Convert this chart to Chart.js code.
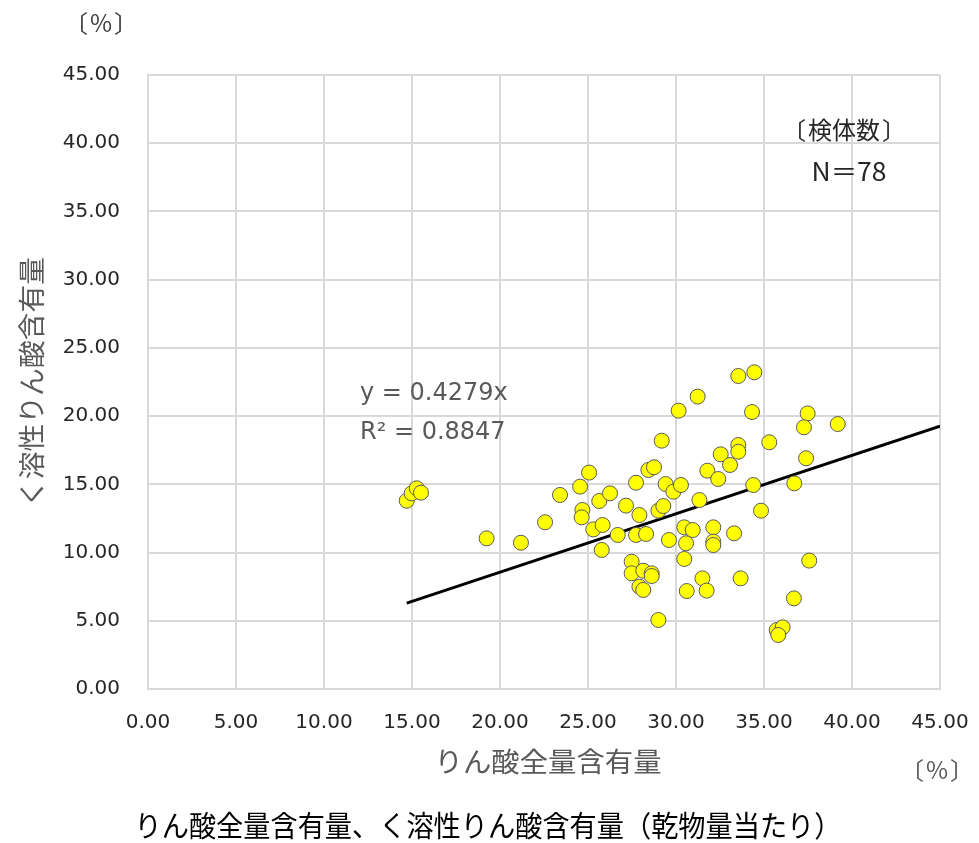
<!DOCTYPE html>
<html>
<head>
<meta charset="utf-8">
<script src="https://cdn.jsdelivr.net/npm/chart.js@4"></script>
<style>
  html, body { margin: 0; padding: 0; background: #fff; }
</style>
</head>
<body>
<canvas id="c" width="979" height="843"></canvas>
<script>
// りん酸全量含有量 (x) / く溶性りん酸含有量 (y)
const totalP = [
  14.70, 14.98, 15.27, 15.51, 19.24, 21.19, 22.56, 23.41, 24.55, 25.06,
  24.68, 24.64, 25.30, 25.83, 25.64, 26.25, 25.78, 27.16, 27.73, 27.92,
  26.69, 27.73, 28.30, 28.43, 28.75, 29.19, 29.41, 29.85, 29.00, 29.28,
  29.60, 30.15, 27.48, 27.48, 28.14, 28.62, 28.62, 27.92, 28.14, 29.00,
  33.54, 34.45, 31.23, 34.32, 37.48, 37.27, 39.19, 35.30, 33.54, 33.54,
  32.54, 33.07, 31.78, 32.40, 37.39, 30.28, 34.39, 36.72, 31.33, 34.83,
  30.47, 30.95, 32.12, 33.30, 30.57, 32.12, 32.12, 30.47, 37.57, 31.50,
  33.67, 30.61, 31.74, 36.70, 35.72, 36.06, 35.81
];
const solubleP = [
  13.80, 14.34, 14.71, 14.39, 11.04, 10.72, 12.22, 14.22, 14.83, 15.86,
  13.12, 12.58, 11.70, 12.02, 13.78, 14.34, 10.19, 13.44, 15.12, 12.75,
  11.29, 11.29, 11.36, 16.05, 16.25, 18.20, 15.02, 14.46, 13.07, 13.41,
  10.92, 20.40,  9.33,  8.48,  8.67,  8.48,  8.28,  7.50,  7.26,  5.06,
  22.94, 23.21, 21.43, 20.30, 20.20, 19.18, 19.42, 18.08, 17.88, 17.39,
  17.20, 16.42, 16.00, 15.39, 16.91, 14.95, 14.95, 15.07, 13.85, 13.07,
  11.85, 11.65, 11.85, 11.41, 10.68, 10.80, 10.55,  9.53,  9.41,  8.11,
   8.11,  7.18,  7.21,  6.64,  4.32,  4.52,  3.96
];

// trendline y = 0.4279x, drawn from the smallest x to the axis end
const SLOPE = 0.4279;
const trendX = [14.70, 45];
const equationLines = ["y = 0.4279x", "R² = 0.8847"];

const xTitle = "りん酸全量含有量";
const yTitle = "く溶性りん酸含有量";
const unitText = "%";
const countText = "検体数";
const countValue = "N＝78";
const caption = "りん酸全量含有量、く溶性りん酸含有量（乾物量当たり）";

const JP = '"Noto Sans CJK JP", sans-serif';
const NUM = '"DejaVu Sans", sans-serif';

// draw text squeezed/stretched horizontally to a given width
function fitText(ctx, text, cx, cy, width) {
  const w = ctx.measureText(text).width;
  ctx.save();
  ctx.translate(cx, cy);
  ctx.scale(width / w, 1);
  ctx.textAlign = "center";
  ctx.fillText(text, 0, 0);
  ctx.restore();
}

// 〔 text 〕 with the brackets placed apart, like the Excel original
function bracketed(ctx, text, cx, cy, gap, size) {
  ctx.save();
  ctx.textAlign = "center";
  ctx.font = size + "px " + JP;
  ctx.fillText(text, cx, cy);
  ctx.fillText("〔", cx - gap - size * 0.25, cy);
  ctx.fillText("〕", cx + gap + size * 0.25, cy);
  ctx.restore();
}

const textPlugin = {
  id: "texts",
  afterDraw(chart) {
    const ctx = chart.ctx;
    const { top, bottom } = chart.chartArea;
    ctx.save();
    ctx.textBaseline = "middle";

    // y axis title (rotated)
    ctx.save();
    ctx.translate(32, (top + bottom) / 2);
    ctx.rotate(-Math.PI / 2);
    ctx.fillStyle = "#595959";
    ctx.font = "27px " + JP;
    fitText(ctx, yTitle, 0, 0, 250);
    ctx.restore();

    // x axis title
    ctx.fillStyle = "#595959";
    ctx.font = "27px " + JP;
    fitText(ctx, xTitle, 548, 762, 227);

    // units
    ctx.fillStyle = "#404040";
    bracketed(ctx, unitText, 101, 23, 19, 24);
    ctx.fillStyle = "#595959";
    bracketed(ctx, unitText, 937, 770, 19, 24);

    // caption
    ctx.fillStyle = "#000";
    ctx.font = "29px " + JP;
    fitText(ctx, caption, 488, 826, 707);

    // sample count
    ctx.fillStyle = "#262626";
    bracketed(ctx, countText, 844, 130, 44, 24);
    ctx.font = "25px " + JP;
    fitText(ctx, countValue, 849, 171, 75);

    // regression equation
    ctx.textAlign = "left";
    ctx.fillStyle = "#595959";
    ctx.font = "24px " + NUM;
    ctx.fillText(equationLines[0], 360, 394);
    ctx.fillText(equationLines[1], 360, 433);

    ctx.restore();
  }
};

new Chart(document.getElementById("c"), {
  type: "scatter",
  data: {
    datasets: [
      {
        label: "trend",
        type: "line",
        data: trendX.map(x => ({ x: x, y: SLOPE * x })),
        borderColor: "#000",
        borderWidth: 3,
        pointRadius: 0,
        fill: false,
        order: 2
      },
      {
        label: "samples",
        data: totalP.map((x, i) => ({ x: x, y: solubleP[i] })),
        backgroundColor: "#FFFF00",
        borderColor: "#595959",
        borderWidth: 1,
        pointRadius: 7.5,
        order: 1
      }
    ]
  },
  options: {
    responsive: false,
    animation: false,
    layout: { padding: { left: 0, top: 75, right: 39, bottom: 0 } },
    plugins: {
      legend: { display: false },
      tooltip: { enabled: false }
    },
    scales: {
      x: {
        type: "linear",
        min: 0,
        max: 45,
        afterFit(scale) {
          scale.height = 154;
          scale.paddingLeft = 0;
          scale.paddingRight = 0;
        },
        grid: { color: "#d9d9d9", lineWidth: 2, drawTicks: false },
        border: { color: "#d9d9d9", width: 2 },
        ticks: {
          stepSize: 5,
          padding: 22,
          color: "#262626",
          font: { family: NUM, size: 20 },
          callback: v => v.toFixed(2)
        }
      },
      y: {
        type: "linear",
        min: 0,
        max: 45,
        afterFit(scale) {
          scale.width = 148;
          scale.paddingTop = 0;
          scale.paddingBottom = 0;
        },
        grid: { color: "#d9d9d9", lineWidth: 2, drawTicks: false },
        border: { color: "#d9d9d9", width: 2 },
        ticks: {
          stepSize: 5,
          padding: 28,
          color: "#262626",
          font: { family: NUM, size: 20 },
          callback: v => v.toFixed(2)
        }
      }
    }
  },
  plugins: [textPlugin]
});
</script>
</body>
</html>
